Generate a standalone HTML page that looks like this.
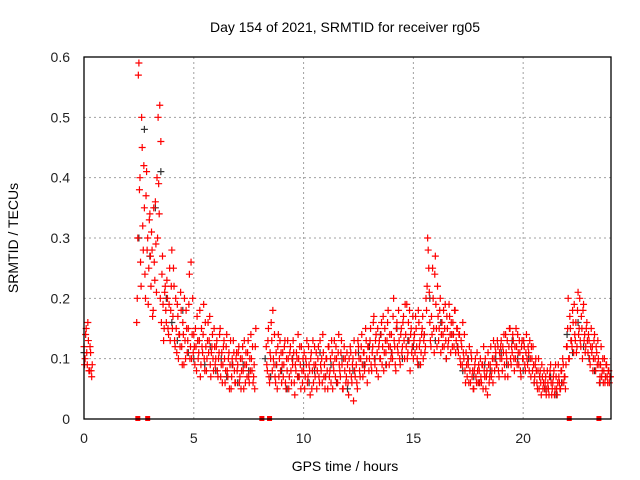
<!DOCTYPE html>
<html><head><meta charset="utf-8"><style>
body{margin:0;background:#fff}
svg{display:block;font-family:"Liberation Sans",sans-serif}
</style></head><body>
<svg id="chart" width="640" height="480">
<text x="345" y="32" text-anchor="middle" font-size="14">Day 154 of 2021, SRMTID for receiver rg05</text>
<text x="345" y="471" text-anchor="middle" font-size="14">GPS time / hours</text>
<text transform="translate(18,238) rotate(-90)" text-anchor="middle" font-size="14">SRMTID / TECUs</text>
<g id="grid"></g><g id="ticks"></g><g id="black"></g><g id="red"></g>
<rect x="84" y="57" width="527" height="362" fill="none" stroke="#000" stroke-width="1.3"/>
</svg>
<script>
const yTicks=[0,0.1,0.2,0.3,0.4,0.5,0.6];
const xTicks=[0,5,10,15,20];
const redStart=0, redStep=0.05;
const redValues=[
0.12,0.10,0.15,0.09,0.13,0.08,0.11,0.07,null,null,null,null,null,null,null,null,null,null,null,null,
null,null,null,null,null,null,null,null,null,null,null,null,null,null,null,null,null,null,null,null,
null,null,null,null,null,null,null,null,0.16,0.3,0.59,0.4,0.22,0.45,0.28,0.35,0.2,0.41,0.3,0.25,
0.34,0.22,0.28,0.18,0.26,0.36,0.21,0.3,0.39,0.52,0.46,0.24,0.19,0.15,0.22,0.16,0.2,0.14,0.25,0.18,
0.28,0.17,0.22,0.12,0.15,0.19,0.1,0.14,0.21,0.12,0.16,0.09,0.13,0.18,0.11,0.15,0.24,0.12,0.1,0.2,
0.14,0.09,0.12,0.17,0.1,0.13,0.07,0.15,0.11,0.19,0.08,0.12,0.1,0.16,0.13,0.09,0.11,0.14,0.08,0.12,
0.1,0.13,0.07,0.11,0.15,0.09,0.06,0.12,0.1,0.08,0.14,0.07,0.11,0.09,0.05,0.1,0.13,0.08,0.06,0.11,
0.09,0.12,0.07,0.05,0.1,0.08,0.13,0.06,0.09,0.11,0.07,0.1,0.14,0.08,0.06,0.09,0.12,null,null,null,
null,null,null,null,null,null,0.12,0.08,0.15,0.06,0.1,0.13,0.18,0.09,0.07,0.11,0.05,0.14,0.1,0.08,
0.06,0.11,0.09,0.13,0.05,0.08,0.1,0.07,0.12,0.06,0.09,0.11,0.04,0.08,0.1,0.14,0.07,0.09,0.12,0.06,
0.08,0.05,0.1,0.13,0.07,0.09,0.04,0.11,0.08,0.06,0.12,0.09,0.05,0.1,0.07,0.13,0.08,0.06,0.11,0.09,
0.07,0.1,0.05,0.12,0.08,0.06,0.11,0.09,0.13,0.07,0.1,0.06,0.14,0.08,0.11,0.09,0.05,0.12,0.1,0.07,
0.09,0.04,0.08,0.11,0.06,0.1,0.13,0.07,0.09,0.05,0.12,0.08,0.1,0.14,0.07,0.11,0.09,0.13,0.06,0.12,
0.1,0.15,0.08,0.12,0.17,0.09,0.14,0.11,0.07,0.13,0.1,0.16,0.12,0.08,0.15,0.11,0.13,0.18,0.09,0.12,
0.14,0.1,0.2,0.12,0.08,0.16,0.11,0.13,0.09,0.15,0.12,0.17,0.1,0.14,0.19,0.11,0.13,0.08,0.15,0.12,
0.1,0.14,0.17,0.12,0.09,0.16,0.13,0.11,0.15,0.1,0.14,0.12,0.18,0.3,0.25,0.16,0.12,0.14,0.2,0.11,
0.27,0.15,0.22,0.13,0.18,0.11,0.16,0.14,0.12,0.19,0.1,0.15,0.13,0.17,0.11,0.14,0.16,0.12,0.18,0.13,
0.15,0.11,0.14,0.09,0.12,0.16,0.1,0.08,0.11,0.07,0.09,0.12,0.06,0.1,0.08,0.05,0.09,0.07,0.11,0.06,
0.08,0.1,0.06,0.09,0.12,0.07,0.05,0.08,0.11,0.06,0.09,0.07,0.1,0.13,0.08,0.11,0.09,0.12,0.07,0.1,
0.13,0.08,0.11,0.09,0.14,0.1,0.07,0.12,0.15,0.09,0.11,0.13,0.08,0.1,0.12,0.14,0.09,0.11,0.07,0.13,
0.1,0.12,0.08,0.14,0.09,0.11,0.13,0.07,0.1,0.12,0.06,0.09,0.08,0.05,0.1,0.07,0.06,0.09,0.05,0.08,
0.06,0.04,0.08,0.05,0.07,0.09,0.04,0.06,0.08,0.05,0.07,0.04,0.09,0.06,0.05,0.08,0.1,0.06,0.07,0.09,
0.12,0.2,0.1,0.15,0.13,0.18,0.11,0.14,0.16,0.12,0.21,0.15,0.13,0.17,0.1,0.19,0.14,0.12,0.16,0.11,
0.13,0.09,0.15,0.12,0.1,0.14,0.08,0.11,0.13,0.09,0.07,0.12,0.08,0.06,0.1,0.07,0.09,0.06,0.08,0.07];
const red2Start=0.025, red2Step=0.05;
const red2Values=[
0.09,0.14,0.11,0.16,0.08,0.12,0.08,0.09,null,null,null,null,null,null,null,null,null,null,null,null,
null,null,null,null,null,null,null,null,null,null,null,null,null,null,null,null,null,null,null,null,
null,null,null,null,null,null,null,null,0.2,0.57,0.38,0.26,0.5,0.32,0.42,0.24,0.37,0.28,0.19,0.33,
0.27,0.31,0.17,0.35,0.23,0.29,0.4,0.5,0.34,0.2,0.16,0.27,0.13,0.21,0.18,0.23,0.15,0.19,0.13,0.22,
0.15,0.25,0.13,0.2,0.11,0.17,0.14,0.12,0.18,0.09,0.14,0.2,0.1,0.15,0.13,0.19,0.1,0.26,0.14,0.11,
0.12,0.15,0.08,0.13,0.11,0.18,0.09,0.12,0.14,0.1,0.16,0.08,0.13,0.11,0.17,0.07,0.12,0.1,0.15,0.09,
0.12,0.08,0.1,0.14,0.07,0.11,0.09,0.13,0.06,0.12,0.08,0.1,0.05,0.13,0.07,0.09,0.11,0.06,0.1,0.08,
0.11,0.06,0.1,0.08,0.12,0.05,0.09,0.11,0.07,0.13,0.06,0.08,0.1,0.12,0.07,0.05,0.15,null,null,null,
null,null,null,null,null,null,0.09,0.13,0.07,0.11,0.16,0.08,0.1,0.14,0.06,0.09,0.12,0.07,0.13,0.11,
0.09,0.07,0.12,0.06,0.1,0.13,0.05,0.11,0.08,0.1,0.13,0.06,0.09,0.11,0.07,0.1,0.12,0.05,0.08,0.1,
0.11,0.07,0.09,0.06,0.12,0.08,0.1,0.05,0.13,0.09,0.07,0.11,0.08,0.12,0.06,0.09,0.1,0.14,0.07,0.05,
0.1,0.08,0.12,0.07,0.1,0.13,0.05,0.08,0.1,0.12,0.06,0.11,0.09,0.07,0.13,0.05,0.1,0.08,0.06,0.11,
0.06,0.1,0.12,0.07,0.09,0.03,0.08,0.11,0.06,0.13,0.1,0.07,0.12,0.09,0.11,0.08,0.15,0.1,0.12,0.08,
0.13,0.09,0.11,0.16,0.1,0.13,0.08,0.15,0.12,0.1,0.14,0.09,0.17,0.11,0.13,0.09,0.16,0.12,0.14,0.1,
0.11,0.17,0.13,0.09,0.15,0.12,0.18,0.1,0.14,0.11,0.16,0.13,0.19,0.12,0.1,0.16,0.18,0.14,0.11,0.17,
0.13,0.11,0.15,0.1,0.18,0.12,0.09,0.14,0.17,0.13,0.11,0.2,0.22,0.28,0.21,0.13,0.17,0.25,0.15,0.24,
0.19,0.12,0.17,0.15,0.2,0.14,0.12,0.18,0.15,0.13,0.17,0.12,0.19,0.14,0.16,0.12,0.14,0.18,0.11,0.15,
0.12,0.14,0.1,0.13,0.09,0.11,0.14,0.06,0.09,0.1,0.06,0.08,0.11,0.07,0.05,0.08,0.1,0.06,0.08,0.09,
0.06,0.07,0.09,0.05,0.08,0.1,0.07,0.04,0.09,0.07,0.12,0.08,0.06,0.1,0.12,0.09,0.13,0.08,0.11,0.12,
0.1,0.12,0.14,0.07,0.11,0.13,0.09,0.15,0.1,0.12,0.14,0.1,0.12,0.15,0.09,0.11,0.13,0.08,0.12,0.1,
0.13,0.09,0.11,0.1,0.12,0.08,0.1,0.12,0.08,0.09,0.07,0.1,0.06,0.08,0.05,0.08,0.04,0.07,0.06,0.05,
0.07,0.05,0.06,0.04,0.08,0.06,0.05,0.07,0.04,0.09,0.05,0.06,0.07,0.05,0.08,0.06,0.09,0.07,0.05,0.12,
0.15,0.1,0.17,0.13,0.12,0.16,0.19,0.13,0.11,0.18,0.14,0.2,0.12,0.15,0.18,0.13,0.11,0.15,0.13,0.14,
0.1,0.12,0.11,0.08,0.13,0.1,0.12,0.09,0.1,0.06,0.09,0.07,0.1,0.08,0.06,0.09,0.07,0.08,0.06,0.07];
const blackStart=0, blackStep=0.25;
const blackValues=[
0.11,null,null,null, null,null,null,null, null,null,0.3,0.48, 0.27,0.35,0.41,0.2,
0.16,0.13,0.18,0.11, 0.1,0.13,0.09,0.12, 0.08,0.1,0.07,0.09, 0.06,0.09,0.08,null,
null,0.1,0.07,0.09, 0.08,0.05,0.1,0.07, 0.09,0.06,0.08,0.11, 0.07,0.09,0.06,0.1,
0.05,0.08,0.11,0.09, 0.12,0.1,0.14,0.09, 0.11,0.15,0.1,0.13, 0.12,0.09,0.14,0.2,
0.13,0.16,0.1,0.14, 0.12,0.08,0.1,0.07, 0.06,0.09,0.08,0.1, 0.11,0.09,0.13,0.1,
0.08,0.1,0.06,0.07, 0.05,0.07,0.04,0.06, 0.14,0.11,0.16,0.12, 0.1,0.08,0.06,0.07];
const zeroMarkTimes=[2.45,2.9,8.1,8.45,22.1,23.45];

const NS='http://www.w3.org/2000/svg';
const X=t=>84+t*(527/24), Y=v=>419-v*(362/0.6);
function mk(tag,attrs,parent){const e=document.createElementNS(NS,tag);for(const k in attrs)e.setAttribute(k,attrs[k]);parent.appendChild(e);return e;}
const grid=document.getElementById('grid'),ticks=document.getElementById('ticks');
yTicks.forEach(v=>{
  if(v>0&&v<0.6){const l=mk('line',{x1:84,x2:611,y1:Y(v),y2:Y(v),stroke:'#a0a0a0','stroke-dasharray':'2,3'},grid);
  
  }
  const t=mk('text',{x:70,y:Y(v)+5,'text-anchor':'end','font-size':14,fill:'#222'},ticks);t.textContent=v===0?'0':v.toFixed(1);
  
  
});
xTicks.forEach(v=>{
  if(v>0){const l=mk('line',{x1:X(v),x2:X(v),y1:57,y2:419,stroke:'#a0a0a0','stroke-dasharray':'2,3'},grid);
  
  }
  const t=mk('text',{x:X(v),y:443,'text-anchor':'middle','font-size':14,fill:'#222'},ticks);t.textContent=v;
  
  
});
function plus(parent,x,y,color,name){
  const p=mk('path',{d:`M${x-3.5},${y}h7M${x},${y-3.5}v7`,stroke:color,'stroke-width':1.2,fill:'none'},parent);
  
  
}
const bg=document.getElementById('black'),rg=document.getElementById('red');
blackValues.forEach((v,i)=>{if(v!==null)plus(bg,X(blackStart+i*blackStep),Y(v),'#333','black-point');});
redValues.forEach((v,i)=>{if(v!==null)plus(rg,X(redStart+i*redStep),Y(v),'#ff0000','red-point');});
red2Values.forEach((v,i)=>{if(v!==null)plus(rg,X(red2Start+i*red2Step),Y(v),'#ff0000','red-point');});
zeroMarkTimes.forEach(t=>{
  const r=mk('rect',{x:X(t)-2.5,y:Y(0)-3,width:5,height:5,fill:'#ff0000'},rg);
  
  
});
</script>
</body></html>
